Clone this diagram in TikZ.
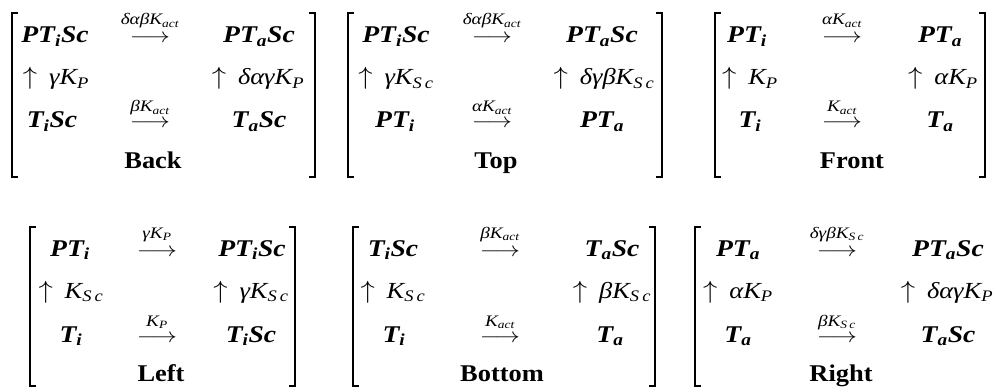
\documentclass[tikz,border=0pt]{standalone}
\usepackage{fontspec}
\setmainfont{Liberation Serif}
\usetikzlibrary{positioning}
\tikzset{
  entry/.style={anchor=base, inner sep=0pt, xscale=1.15,
    font=\fontsize{24}{28}\selectfont\bfseries\itshape},
  rate/.style={anchor=base, inner sep=0pt, xscale=1.15,
    font=\fontsize{23}{27}\selectfont\itshape},
  ratelbl/.style={inner sep=0pt, xscale=1.2,
    font=\fontsize{16}{19}\selectfont\itshape},
  arw/.style={anchor=base, inner sep=0pt, xscale=1.2,
    font=\fontsize{22}{26}\selectfont},
  facelbl/.style={anchor=base, inner sep=0pt, xscale=1.1,
    font=\fontsize{24}{28}\selectfont\bfseries},
  brak/.style={line width=1.8pt}
}
\newcommand{\lbrak}[3]{\draw[brak] (#1+6,#2) -- (#1,#2) -- (#1,#3) -- (#1+6,#3);}
\newcommand{\rbrak}[3]{\draw[brak] (#1-6,#2) -- (#1,#2) -- (#1,#3) -- (#1-6,#3);}
\newcommand{\up}{$\uparrow$\hspace{0.45em}}
\newcommand{\Ksc}{K\textsubscript{S\,c}}
\newcommand{\Kact}{K\textsubscript{act}}

\begin{document}
\begin{tikzpicture}[x=1pt, y=-1pt]
  \useasboundingbox (0,0) rectangle (1000,387);

  % back face
  \node[entry] (back-pis) at (55,43) {PT\textsubscript{i}Sc};
  \node[arw] (back-a1) at (150,43) {$\longrightarrow$};
  \node[ratelbl, above=18pt of back-a1.base, anchor=base] (back-l1) {δαβ\Kact};
  \node[entry] (back-pas) at (259,43) {PT\textsubscript{a}Sc};
  \node[rate] (back-r1) at (56,85) {\up γK\textsubscript{P}};
  \node[rate] (back-r2) at (258,85) {\up δαγK\textsubscript{P}};
  \node[entry] (back-tis) at (52,128) {T\textsubscript{i}Sc};
  \node[arw] (back-a2) at (150,128) {$\longrightarrow$};
  \node[ratelbl, above=16pt of back-a2.base, anchor=base] (back-l2) {β\Kact};
  \node[entry] (back-tas) at (259,128) {T\textsubscript{a}Sc};
  \node[facelbl] (back-name) at (153,169) {Back};
  \lbrak{12}{13}{177}
  \rbrak{315}{13}{177}

  % top face
  \node[entry] (top-pis) at (396,43) {PT\textsubscript{i}Sc};
  \node[arw] (top-a1) at (492,43) {$\longrightarrow$};
  \node[ratelbl, above=18pt of top-a1.base, anchor=base] (top-l1) {δαβ\Kact};
  \node[entry] (top-pas) at (602,43) {PT\textsubscript{a}Sc};
  \node[rate] (top-r1) at (396,85) {\up γ\Ksc};
  \node[rate] (top-r2) at (604,85) {\up δγβ\Ksc};
  \node[entry] (top-pi) at (395,128) {PT\textsubscript{i}};
  \node[arw] (top-a2) at (492,128) {$\longrightarrow$};
  \node[ratelbl, above=16pt of top-a2.base, anchor=base] (top-l2) {α\Kact};
  \node[entry] (top-pa) at (602,128) {PT\textsubscript{a}};
  \node[facelbl] (top-name) at (496,169) {Top};
  \lbrak{348}{13}{177}
  \rbrak{662}{13}{177}

  % front face
  \node[entry] (front-pi) at (747,43) {PT\textsubscript{i}};
  \node[arw] (front-a1) at (842,43) {$\longrightarrow$};
  \node[ratelbl, above=18pt of front-a1.base, anchor=base] (front-l1) {α\Kact};
  \node[entry] (front-pa) at (940,43) {PT\textsubscript{a}};
  \node[rate] (front-r1) at (750,85) {\up K\textsubscript{P}};
  \node[rate] (front-r2) at (943,85) {\up αK\textsubscript{P}};
  \node[entry] (front-ti) at (750,128) {T\textsubscript{i}};
  \node[arw] (front-a2) at (842,128) {$\longrightarrow$};
  \node[ratelbl, above=16pt of front-a2.base, anchor=base] (front-l2) {\Kact};
  \node[entry] (front-ta) at (940,128) {T\textsubscript{a}};
  \node[facelbl] (front-name) at (852,169) {Front};
  \lbrak{715}{13}{177}
  \rbrak{985}{13}{177}

  % left face
  \node[entry] (left-pi) at (70,256) {PT\textsubscript{i}};
  \node[arw] (left-a1) at (157,256) {$\longrightarrow$};
  \node[ratelbl, above=18pt of left-a1.base, anchor=base] (left-l1) {γK\textsubscript{P}};
  \node[entry] (left-pis) at (252,256) {PT\textsubscript{i}Sc};
  \node[rate] (left-r1) at (71,298) {\up \Ksc};
  \node[rate] (left-r2) at (251,298) {\up γ\Ksc};
  \node[entry] (left-ti) at (71,342) {T\textsubscript{i}};
  \node[arw] (left-a2) at (157,342) {$\longrightarrow$};
  \node[ratelbl, above=16pt of left-a2.base, anchor=base] (left-l2) {K\textsubscript{P}};
  \node[entry] (left-tis) at (251,342) {T\textsubscript{i}Sc};
  \node[facelbl] (left-name) at (161,381) {Left};
  \lbrak{30}{227}{386}
  \rbrak{295}{227}{386}

  % bottom face
  \node[entry] (bottom-tis) at (393,256) {T\textsubscript{i}Sc};
  \node[arw] (bottom-a1) at (500,256) {$\longrightarrow$};
  \node[ratelbl, above=18pt of bottom-a1.base, anchor=base] (bottom-l1) {β\Kact};
  \node[entry] (bottom-tas) at (612,256) {T\textsubscript{a}Sc};
  \node[rate] (bottom-r1) at (393,298) {\up \Ksc};
  \node[rate] (bottom-r2) at (612,298) {\up β\Ksc};
  \node[entry] (bottom-ti) at (394,342) {T\textsubscript{i}};
  \node[arw] (bottom-a2) at (500,342) {$\longrightarrow$};
  \node[ratelbl, above=16pt of bottom-a2.base, anchor=base] (bottom-l2) {\Kact};
  \node[entry] (bottom-ta) at (610,342) {T\textsubscript{a}};
  \node[facelbl] (bottom-name) at (502,381) {Bottom};
  \lbrak{353}{227}{386}
  \rbrak{655}{227}{386}

  % right face
  \node[entry] (right-pa) at (738,256) {PT\textsubscript{a}};
  \node[arw] (right-a1) at (837,256) {$\longrightarrow$};
  \node[ratelbl, above=18pt of right-a1.base, anchor=base] (right-l1) {δγβ\Ksc};
  \node[entry] (right-pas) at (948,256) {PT\textsubscript{a}Sc};
  \node[rate] (right-r1) at (738,298) {\up αK\textsubscript{P}};
  \node[rate] (right-r2) at (947,298) {\up δαγK\textsubscript{P}};
  \node[entry] (right-ta) at (738,342) {T\textsubscript{a}};
  \node[arw] (right-a2) at (837,342) {$\longrightarrow$};
  \node[ratelbl, above=16pt of right-a2.base, anchor=base] (right-l2) {β\Ksc};
  \node[entry] (right-tas) at (948,342) {T\textsubscript{a}Sc};
  \node[facelbl] (right-name) at (841,381) {Right};
  \lbrak{695}{227}{386}
\end{tikzpicture}
\end{document}
